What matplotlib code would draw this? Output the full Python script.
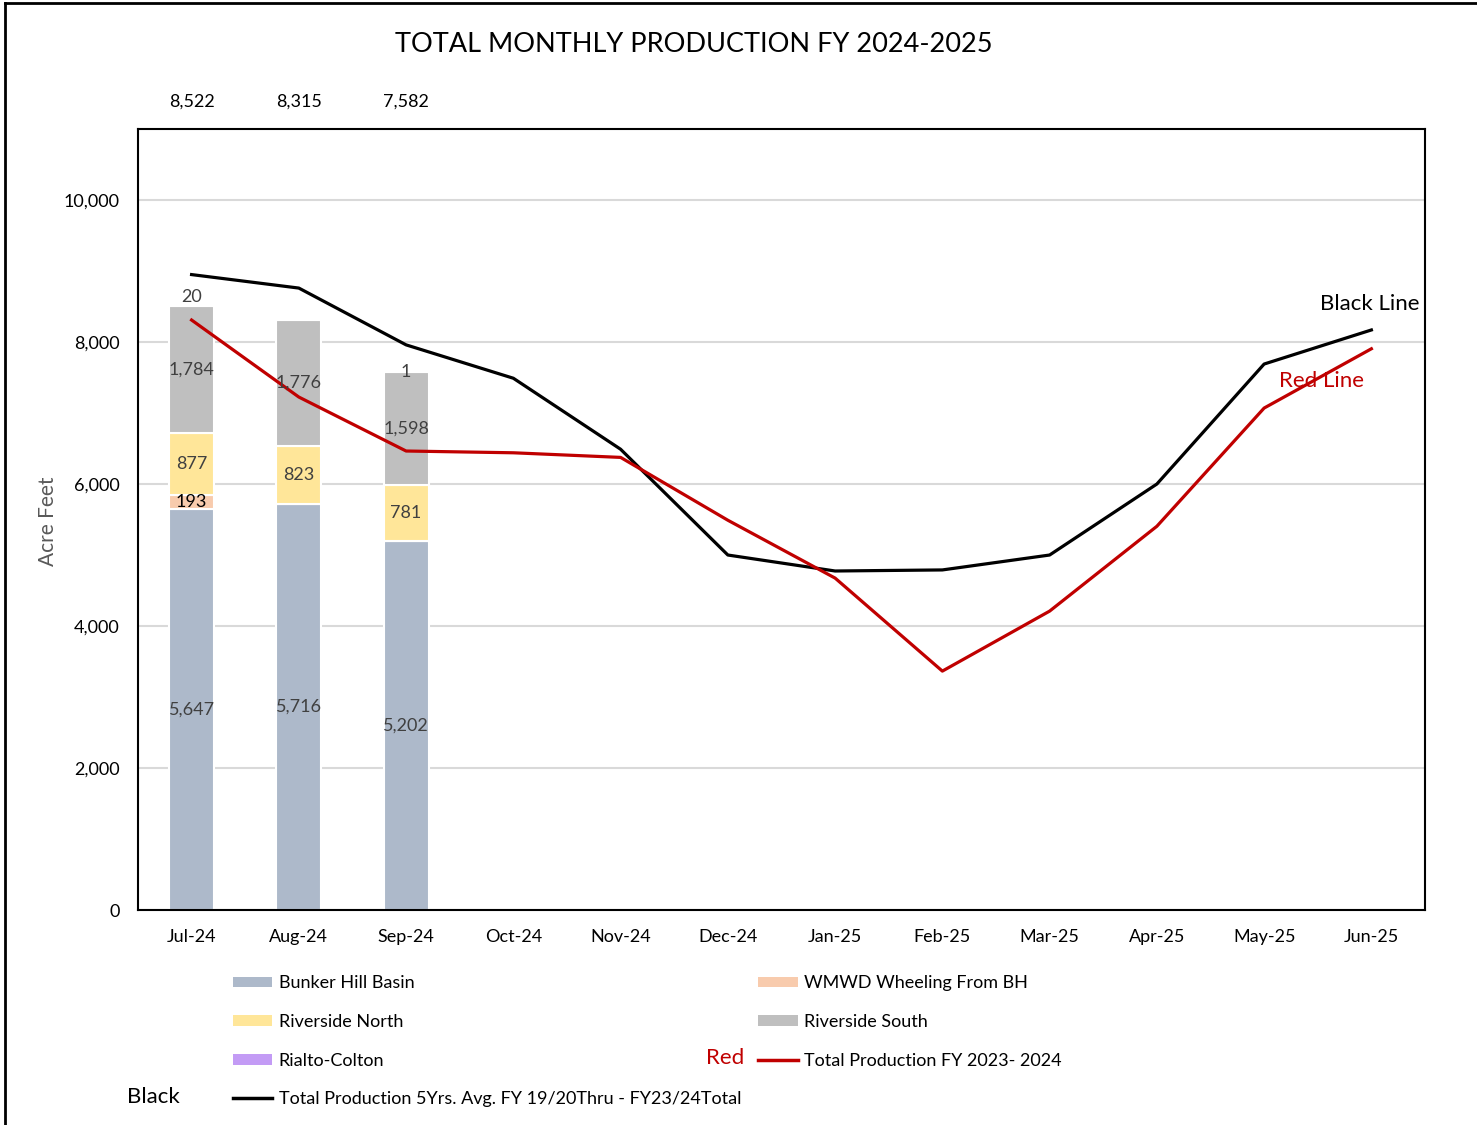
import matplotlib

matplotlib.use("Agg")

import matplotlib.pyplot as plt  # noqa: E402
import numpy as np               # noqa: E402
from matplotlib.lines import Line2D  # noqa: E402
from matplotlib.patches import Patch  # noqa: E402

plt.rcParams["font.family"] = ["Lato", "DejaVu Sans"]

months = ["Jul-24", "Aug-24", "Sep-24", "Oct-24", "Nov-24", "Dec-24",
          "Jan-25", "Feb-25", "Mar-25", "Apr-25", "May-25", "Jun-25"]

# stacked sources (only first three months reported)
bunker_hill = [5647, 5716, 5202]
wmwd_wheeling = [193, 0, 0]
riverside_north = [877, 823, 781]
riverside_south = [1784, 1776, 1598]
rialto_colton = [20, 0, 1]
totals = ["8,522", "8,315", "7,582"]

avg_5yr = [8950, 8760, 7960, 7490, 6490, 5000, 4775, 4790, 5000, 6000, 7690, 8170]
fy2324 = [8310, 7225, 6465, 6440, 6375, 5490, 4675, 3365, 4210, 5405, 7070, 7905]

series = [
    ("Bunker Hill Basin", bunker_hill, "#adb9ca", "#404040"),
    ("WMWD Wheeling From BH", wmwd_wheeling, "#f8cbad", "#000000"),
    ("Riverside North", riverside_north, "#ffe699", "#404040"),
    ("Riverside South", riverside_south, "#bfbfbf", "#404040"),
    ("Rialto-Colton", rialto_colton, "#c39bf5", "#404040"),
]

fig = plt.figure(figsize=(14.77, 11.25), dpi=100)
ax = fig.add_axes([0.0934, 0.1911, 0.8714, 0.6942])

x = np.arange(len(months))
xb = x[:len(bunker_hill)]
bottom = np.zeros(len(bunker_hill))
for name, vals, color, tcol in series:
    vals = np.array(vals, dtype=float)
    ax.bar(xb, vals, 0.42, bottom=bottom, color=color, edgecolor="white",
           linewidth=1.5, zorder=2)
    for xi, b, v in zip(xb, bottom, vals):
        if v > 0:
            # tiny top segments get their label nudged up a bit
            dy = 6 if v < 50 and xi == 0 else 0
            ax.annotate(f"{int(v):,}", (xi, b + v / 2), xytext=(0, dy),
                        textcoords="offset points", ha="center", va="center",
                        fontsize=13, color=tcol, zorder=5)
    bottom += vals

ax.plot(x, avg_5yr, color="black", lw=2.3, zorder=3)
ax.plot(x, fy2324, color="#c00000", lw=2.3, zorder=3)

# monthly totals shown above the plot area
for xi, t in zip(xb, totals):
    ax.text(xi, 11390, t, ha="center", va="center", fontsize=13,
            zorder=5, clip_on=False)

ax.text(11.45, 8530, "Black Line", ha="right", va="center", fontsize=16)
ax.text(10.93, 7450, "Red Line", ha="right", va="center", fontsize=16,
        color="#c00000")

ax.set_xlim(-0.5, 11.5)
ax.set_ylim(0, 11000)
ax.set_yticks(range(0, 10001, 2000))
ax.set_yticklabels([f"{v:,}" for v in range(0, 10001, 2000)], fontsize=13)
ax.set_xticks(x)
ax.set_xticklabels(months, fontsize=13)
ax.tick_params(length=0, pad=14)
ax.tick_params(axis="y", pad=13)
ax.grid(axis="y", color="#d9d9d9", lw=1.5, zorder=0)
ax.set_axisbelow(True)
for s in ax.spines.values():
    s.set_linewidth(1.5)
ax.set_ylabel("Acre Feet", fontsize=15, color="#595959")
ax.yaxis.set_label_coords(-0.062, 0.498)

fig.text(0.47, 0.960, "TOTAL MONTHLY PRODUCTION FY 2024-2025",
         ha="center", va="center", fontsize=19.5)

handles = [
    Patch(facecolor="#adb9ca", label="Bunker Hill Basin"),
    Patch(facecolor="#ffe699", label="Riverside North"),
    Patch(facecolor="#c39bf5", label="Rialto-Colton"),
    Line2D([], [], color="black", lw=2.5,
           label="Total Production 5Yrs. Avg. FY 19/20Thru - FY23/24Total"),
    Patch(facecolor="#f8cbad", label="WMWD Wheeling From BH"),
    Patch(facecolor="#bfbfbf", label="Riverside South"),
    Line2D([], [], color="#c00000", lw=2.5,
           label="Total Production FY 2023- 2024"),
]
fig.legend(handles=handles, ncol=2, loc="upper left",
           bbox_to_anchor=(0.1575, 0.133), frameon=False, fontsize=13,
           handlelength=2.2, handleheight=0.55, handletextpad=0.35,
           labelspacing=1.25, columnspacing=0.95, borderaxespad=0,
           borderpad=0)
fig.text(0.491, 0.060, "Red", ha="center", va="center", fontsize=16,
         color="#c00000")
fig.text(0.104, 0.025, "Black", ha="center", va="center", fontsize=16)

fig.add_artist(Line2D([0.0035, 0.0035], [0, 0.997], color="black", lw=2,
                      transform=fig.transFigure))
fig.add_artist(Line2D([0.0035, 1], [0.997, 0.997], color="black", lw=2,
                      transform=fig.transFigure))

fig.savefig("out.png", dpi=100)
plt.close(fig)
